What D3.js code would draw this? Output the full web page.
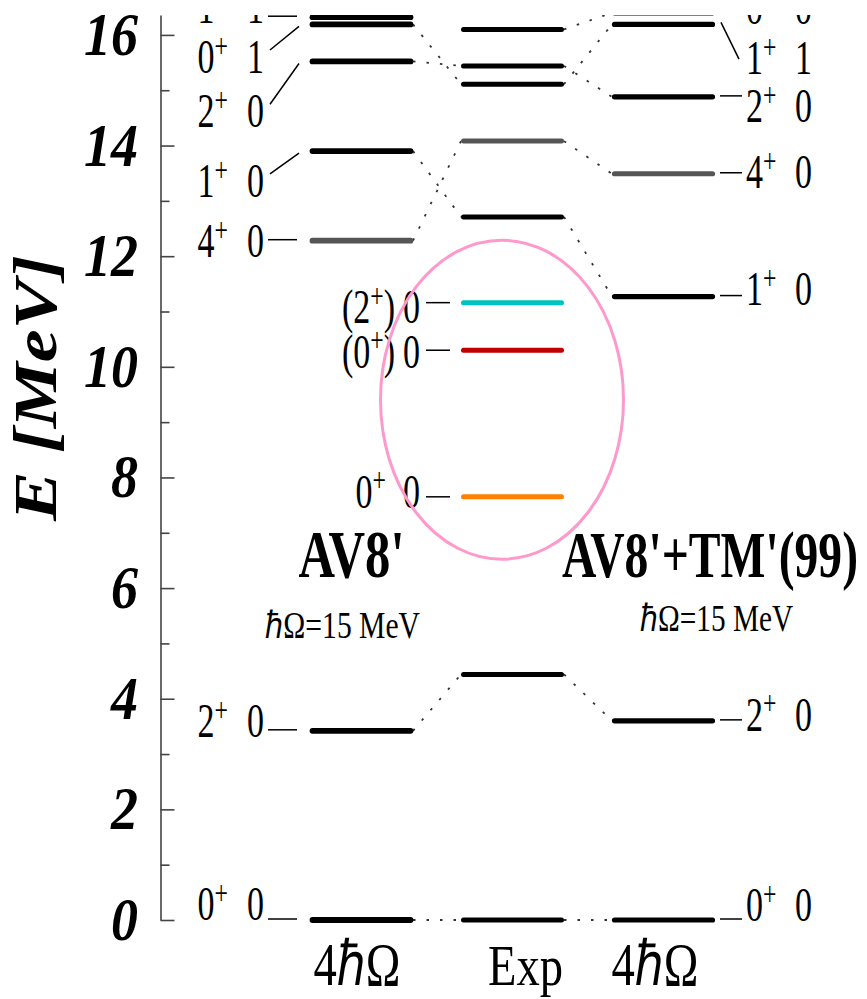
<!DOCTYPE html>
<html><head><meta charset="utf-8">
<script src="https://cdn.jsdelivr.net/npm/d3@7"></script>
<style>body{margin:0;background:#fff}svg{display:block}</style>
</head><body><svg id="c" width="867" height="999"></svg>
<script>
// ---------------- DATA ----------------
const columnNames  = ["AV8'", "Exp", "AV8'+TM'(99)"];
const columnLabels = ["4ℏΩ", "Exp", "4ℏΩ"];
const hwLabel = "ℏΩ=15 MeV";
const yTitle = "E [MeV]";
const yTickValues = [0, 2, 4, 6, 8, 10, 12, 14, 16];
const yMinorTicks = [1, 3, 5, 7, 9, 11, 13, 15];

const av8E    = [0, 3.42, 12.28, 13.90, 15.52, 16.19, 16.32];
const av8Spin = ["0+", "2+", "4+", "1+", "2+", "0+", "1+"];
const av8Iso  = ["0", "0", "0", "0", "0", "1", "1"];

const expE    = [0, 4.44, 7.65, 10.30, 11.16, 12.71, 14.08, 15.11, 15.44, 16.10];
const expSpin = ["0+", "2+", "0+", "(0+)", "(2+)", "1+", "4+", "1+", "2+", "2+"];
const expIso  = ["0", "0", "0", "0", "0", "0", "0", "1", "0", "0"];

const tmE     = [0, 3.60, 11.27, 13.49, 14.88, 16.19, 16.40];
const tmSpin  = ["0+", "2+", "1+", "4+", "2+", "1+", "0+"];
const tmIso   = ["0", "0", "0", "0", "0", "1", "0"];

// correspondences (index pairs)
const linksAv8Exp = [[0,0],[1,1],[2,6],[3,5],[4,8],[5,7]];
const linksExpTm  = [[0,0],[1,1],[5,2],[6,3],[7,5],[8,4],[9,6]];

// ---------------- LAYOUT / STYLE ----------------
const av8LabelAt = [0.29, 3.59, 12.27, 13.36, 14.62, 15.6, 16.5];
const expLabelled = [2, 3, 4];
const expLabelAt = {2: 7.74, 3: 10.27, 4: 11.08};
const tmLabelAt  = [0.27, 3.71, 11.4, 13.52, 14.71, 15.58, 16.48];
const expColors = {2: "#ff8000", 3: "#c00000", 4: "#00c2c0"};
const grayLevel = "#555555";

const svg = d3.select("#c");
svg.attr("font-family", "'Liberation Serif','Times New Roman',serif");

const y = d3.scaleLinear().domain([0, 16.36]).range([920, 15]);
const xc = d3.scalePoint().domain(columnNames).range([361.5, 663.5]);
const HW = 51.5;

// ---------- helpers ----------
function stext(parent, x, yy, str, o) {
  o = o || {};
  const g = parent.append("g").attr("transform", `translate(${x},${yy}) scale(1,${o.k || 1})`);
  const t = g.append("text").attr("text-anchor", o.anchor || "start")
    .attr("font-size", o.size || 20)
    .attr("font-weight", o.weight || "normal")
    .attr("font-style", o.style || "normal")
    .attr("fill", o.fill || "#000").text(str);
  if (o.len) t.attr("textLength", o.len).attr("lengthAdjust", "spacingAndGlyphs");
  return t;
}
const LF = 34, LK = 1.42;
function spinText(parent, x, yy, spin, anchor) {
  const g = parent.append("g").attr("transform", `translate(${x},${yy}) scale(1,${LK})`);
  const t = g.append("text").attr("text-anchor", anchor).attr("font-size", LF).attr("fill", "#000");
  const i = spin.indexOf("+");
  t.append("tspan").text(spin.slice(0, i));
  t.append("tspan").text("+").attr("font-size", LF * 0.7).attr("dy", -LF * 0.34);
  const rest = spin.slice(i + 1);
  if (rest) t.append("tspan").text(rest).attr("dy", LF * 0.34);
}
function isoText(parent, x, yy, iso, anchor) {
  stext(parent, x, yy, iso, {size: LF, k: LK, anchor: anchor});
}

// ---------- axis ----------
const axX = 160.5;
const axG = svg.append("g").attr("transform", `translate(${axX},0)`);
axG.call(d3.axisRight(y).tickValues(yTickValues).tickSize(14).tickSizeOuter(0).tickFormat(""));
axG.append("g").call(d3.axisRight(y).tickValues(yMinorTicks).tickSize(9).tickSizeOuter(0).tickFormat(""))
  .select(".domain").remove();
axG.selectAll("path,line").attr("stroke", "#444").attr("stroke-width", 1.6);

yTickValues.forEach(v => {
  stext(svg, 138, y(v) + 20, String(v), {size: 55, k: 1.1, anchor: "end", weight: "bold",
    style: "italic", len: 27 * String(v).length});
});
const yt = svg.append("g").attr("transform", "translate(56,388) rotate(-90)");
yt.append("text").attr("text-anchor", "middle").attr("font-size", 62)
  .attr("font-weight", "bold").attr("font-style", "italic")
  .attr("textLength", 266).attr("lengthAdjust", "spacingAndGlyphs").text(yTitle);

// ---------- plot area (clipped at top) ----------
svg.append("clipPath").attr("id", "clip").append("rect")
  .attr("x", 0).attr("y", 15).attr("width", 867).attr("height", 984);
const P = svg.append("g").attr("clip-path", "url(#clip)");

// connectors
const dotted = P.append("g").attr("stroke", "#333").attr("stroke-width", 1.8)
  .attr("stroke-dasharray", "2.5,11").attr("fill", "none");
dotted.selectAll("line.a").data(linksAv8Exp).join("line")
  .attr("x1", xc(columnNames[0]) + HW).attr("x2", xc(columnNames[1]) - HW)
  .attr("y1", d => y(av8E[d[0]])).attr("y2", d => y(expE[d[1]]));
dotted.selectAll("line.b").data(linksExpTm).join("line")
  .attr("x1", xc(columnNames[1]) + HW).attr("x2", xc(columnNames[2]) - HW)
  .attr("y1", d => y(expE[d[0]])).attr("y2", d => y(tmE[d[1]]));

// level bars
function levels(energies, col, colorFn, width) {
  const cx = xc(col);
  P.append("g").selectAll("line").data(energies).join("line")
    .attr("x1", cx - HW + 2.5).attr("x2", cx + HW - 2.5)
    .attr("y1", d => y(d)).attr("y2", d => y(d))
    .attr("stroke", (d, i) => colorFn(i)).attr("stroke-width", width)
    .attr("stroke-linecap", "round");
}
levels(av8E, columnNames[0], i => av8Spin[i] === "4+" ? grayLevel : "#000", 5.8);
levels(expE, columnNames[1], i => expColors[i] || (expSpin[i] === "4+" ? grayLevel : "#000"), 5);
levels(tmE, columnNames[2], i => tmSpin[i] === "4+" ? grayLevel : "#000", 5.2);

// labels + leaders
const lead = P.append("g").attr("stroke", "#000").attr("stroke-width", 1.5);
const L = P.append("g");
av8E.forEach((e, i) => {
  const yl = y(av8LabelAt[i]), ye = y(e);
  spinText(L, 228, yl + 16, av8Spin[i], "end");
  isoText(L, 264, yl + 16, av8Iso[i], "end");
  if (Math.abs(yl - ye) < 20) lead.append("line").attr("x1", 268).attr("x2", 297).attr("y1", ye - 1).attr("y2", ye - 1);
  else lead.append("line").attr("x1", 270).attr("x2", 299).attr("y1", yl - 7).attr("y2", ye + 2);
});
expLabelled.forEach(i => {
  const yl = y(expLabelAt[i]), ye = y(expE[i]);
  const paren = expSpin[i].startsWith("(");
  spinText(L, paren ? 395 : 386, yl + 16, expSpin[i], "end");
  isoText(L, 420, yl + 16, expIso[i], "end");
  lead.append("line").attr("x1", 426).attr("x2", 450).attr("y1", ye).attr("y2", ye);
});
tmE.forEach((e, i) => {
  const yl = y(tmLabelAt[i]), ye = y(e);
  spinText(L, 746, yl + 16, tmSpin[i], "start");
  isoText(L, 795, yl + 16, tmIso[i], "start");
  if (Math.abs(yl - ye) < 20) lead.append("line").attr("x1", 720).attr("x2", 742).attr("y1", ye - 1).attr("y2", ye - 1);
  else lead.append("line").attr("x1", 721).attr("x2", 739).attr("y1", ye - 2).attr("y2", yl + 1);
});

// ---------- titles ----------
stext(svg, xc(columnNames[0]) - 10, 577, columnNames[0], {size: 48, k: 1.4, anchor: "middle", weight: "bold", len: 106});
stext(svg, xc(columnNames[0]) - 19, 638, hwLabel, {size: 30, k: 1.25, anchor: "middle", len: 155});
stext(svg, xc(columnNames[2]) + 46.5, 577, columnNames[2], {size: 46.5, k: 1.43, anchor: "middle", weight: "bold", len: 296});
stext(svg, xc(columnNames[2]) + 53, 631, hwLabel, {size: 30, k: 1.25, anchor: "middle", len: 153});

// bottom column labels
const bottomOffsets = [-4.5, 13, -8.5];
columnNames.forEach((c, i) => {
  stext(svg, xc(c) + bottomOffsets[i], 985, columnLabels[i],
    {size: 46, k: i === 1 ? 1.22 : 1.35, anchor: "middle", len: i === 1 ? 75 : 87});
});

// ---------- highlight ellipse ----------
svg.append("ellipse").attr("cx", xc(columnNames[1]) - 10.5).attr("cy", y(9.405))
  .attr("rx", 121.5).attr("ry", 159.5)
  .attr("fill", "none").attr("stroke", "#ff99cc").attr("stroke-width", 3);
</script></body></html>
